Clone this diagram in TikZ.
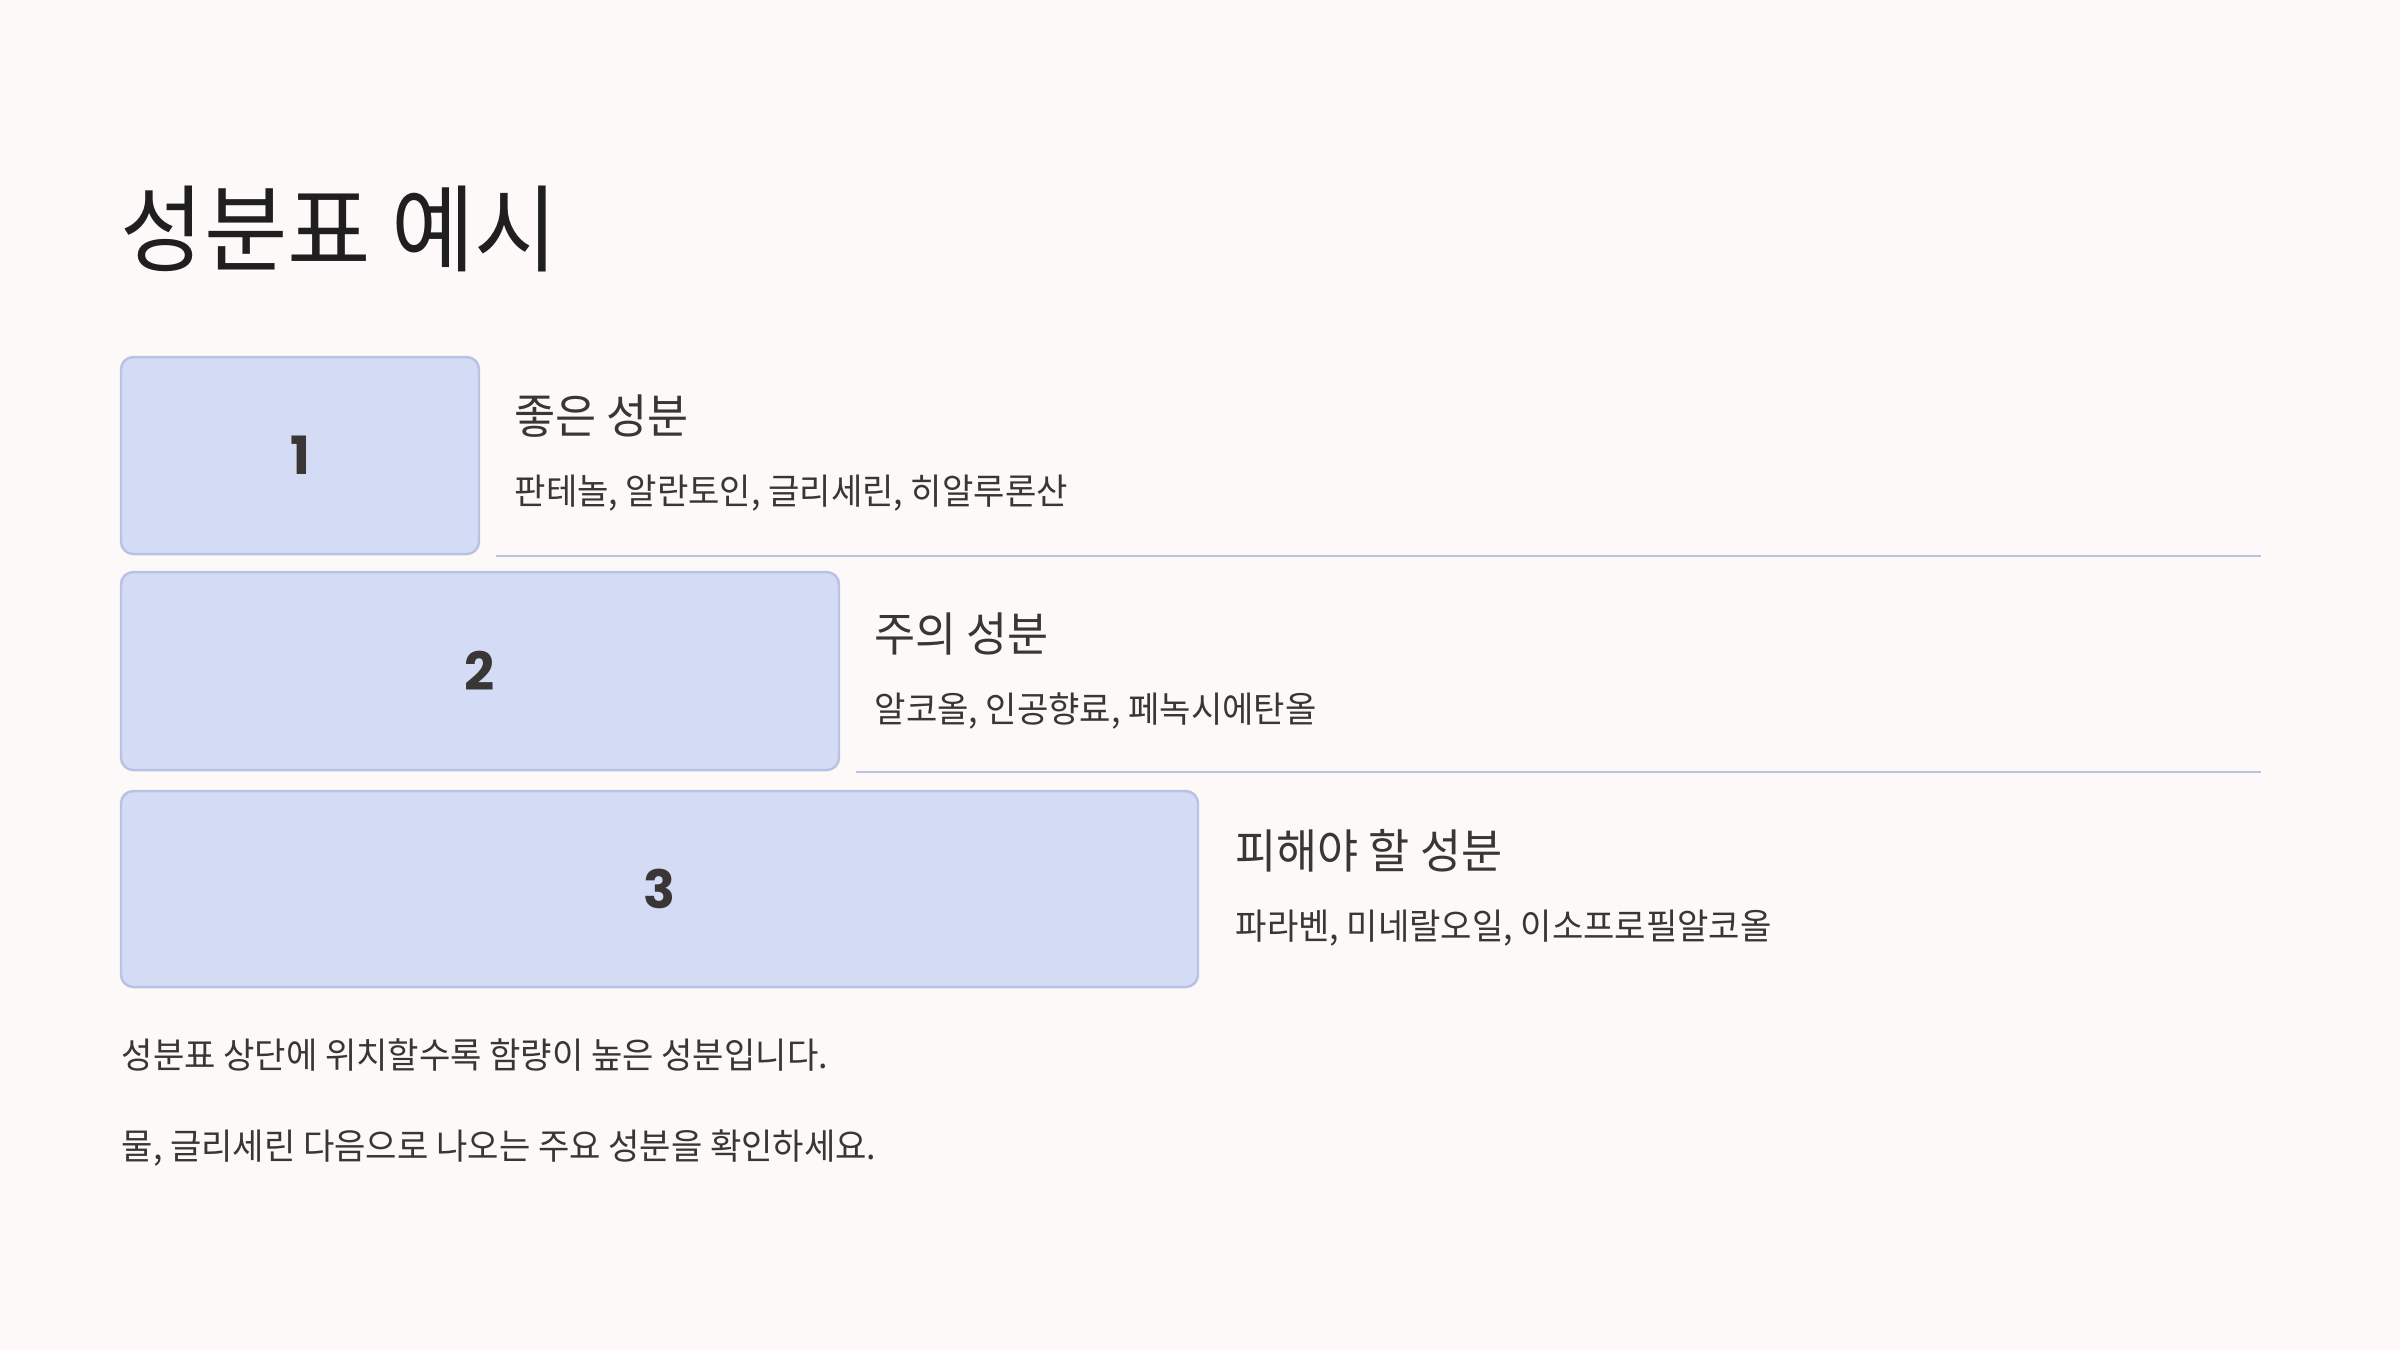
\documentclass[tikz,border=0pt]{standalone}
\usepackage{fontspec}
\newfontfamily\kr[FakeStretch=0.955]{Noto Sans CJK KR}
\newfontfamily\numfont{Poppins}
\definecolor{bgc}{HTML}{FDF9F8}
\definecolor{boxfill}{HTML}{D4DCF5}
\definecolor{boxline}{HTML}{B8C2E2}
\definecolor{titlec}{HTML}{1F1F1F}
\definecolor{textc}{HTML}{3A3636}
\tikzset{
  stepbox/.style={draw=boxline, line width=0.7pt, fill=boxfill, rounded corners=3.5pt},
  numlabel/.style={font=\numfont\bfseries\fontsize{15}{18}\selectfont, text=textc},
  heading/.style={anchor=west, inner sep=0pt, font=\kr\fontsize{13.3}{16}\selectfont, text=textc},
  subtext/.style={anchor=west, inner sep=0pt, font=\kr\fontsize{10.15}{13}\selectfont, text=textc},
  bodytext/.style={anchor=west, inner sep=0pt, font=\kr\fontsize{10.15}{13}\selectfont, text=textc},
  sepline/.style={draw=boxline, line width=0.6pt}
}
\begin{document}
\begin{tikzpicture}[x=0.01cm,y=-0.01cm]
\fill[bgc] (0,0) rectangle (2400,1350);
\useasboundingbox (0,0) rectangle (2400,1350);
\node[anchor=west, inner sep=0pt, font=\kr\fontsize{27}{32}\selectfont, text=titlec] (title) at (120,229) {성분표 예시};

\draw[stepbox] (121,357) rectangle (479,554);
\node[numlabel] (n1) at (300,455) {1};
\draw[stepbox] (121,572) rectangle (839,770);
\node[numlabel] (n2) at (480,671) {2};
\draw[stepbox] (121,791) rectangle (1198,987);
\node[numlabel] (n3) at (659,889) {3};

\node[heading] (h1) at (514,416) {좋은 성분};
\node[subtext] (s1) at (514,493) {판테놀, 알란토인, 글리세린, 히알루론산};
\coordinate (l1a) at (496,556);
\coordinate (l1b) at (2261,556);
\draw[sepline] (l1a) -- (l1b);

\node[heading] (h2) at (874,634) {주의 성분};
\node[subtext] (s2) at (874,711) {알코올, 인공향료, 페녹시에탄올};
\coordinate (l2a) at (856,772);
\coordinate (l2b) at (2261,772);
\draw[sepline] (l2a) -- (l2b);

\node[heading] (h3) at (1235,851) {피해야 할 성분};
\node[subtext] (s3) at (1235,928) {파라벤, 미네랄오일, 이소프로필알코올};

\node[bodytext] (b1) at (121,1055) {성분표 상단에 위치할수록 함량이 높은 성분입니다.};
\node[bodytext] (b2) at (121,1148) {물, 글리세린 다음으로 나오는 주요 성분을 확인하세요.};
\end{tikzpicture}
\end{document}
